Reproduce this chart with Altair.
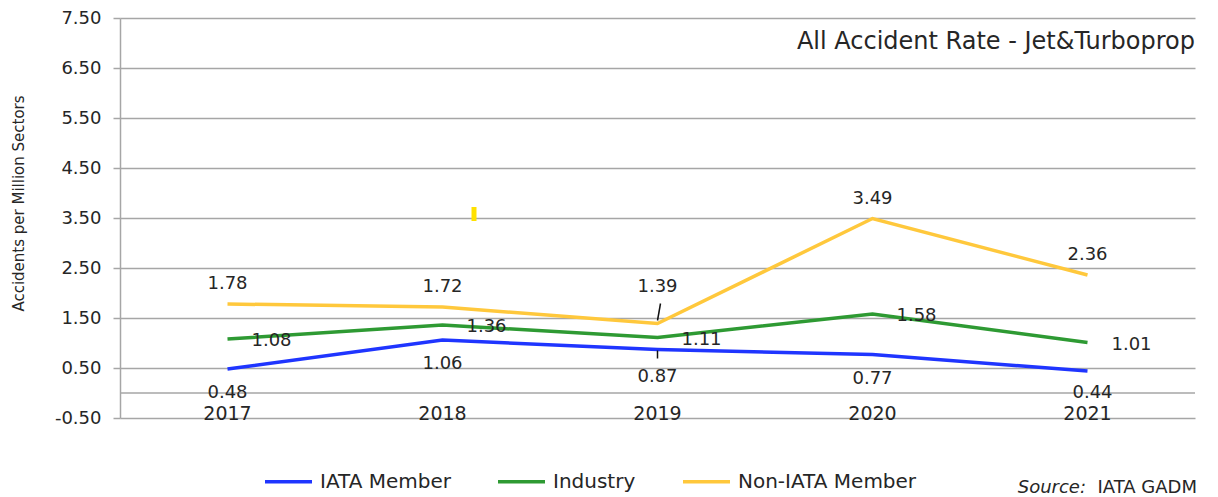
import altair as alt
import pandas as pd

# ---- data ----
years = ["2017", "2018", "2019", "2020", "2021"]
iata_member = [0.48, 1.06, 0.87, 0.77, 0.44]
industry = [1.08, 1.36, 1.11, 1.58, 1.01]
non_iata_member = [1.78, 1.72, 1.39, 3.49, 2.36]
series_names = ["IATA Member", "Industry", "Non-IATA Member"]
series_colors = ["#1f35ff", "#2e9a33", "#ffc83c"]
y_ticks = [-0.5, 0.5, 1.5, 2.5, 3.5, 4.5, 5.5, 6.5, 7.5]
chart_title = "All Accident Rate - Jet&Turboprop"
y_title = "Accidents per Million Sectors"

rows = []
for name, vals in zip(series_names, [iata_member, industry, non_iata_member]):
    for yr, v in zip(years, vals):
        rows.append({"year": yr, "series": name, "value": v})
df = pd.DataFrame(rows)

FONT = "DejaVu Sans"
TXT = "#262626"
GRID = "#a6a6a6"

x_enc = alt.X("year:O", scale=alt.Scale(type="point", domain=years, padding=0.5), axis=None)
y_scale = alt.Scale(domain=[-0.5, 7.5], nice=False, zero=False)

base = alt.Chart(df)

lines = base.mark_line(strokeWidth=3.5).encode(
    x=x_enc,
    y=alt.Y("value:Q", scale=y_scale,
            axis=alt.Axis(values=y_ticks, format=".2f", title=y_title,
                          labelExpr="replace(datum.label, '\u2212', '-')",
                          labelFont=FONT, labelFontSize=18, labelColor=TXT,
                          labelPadding=12, tickSize=7, tickColor=GRID, tickWidth=1.5,
                          domainColor=GRID, domainWidth=1.5,
                          grid=True, gridColor=GRID, gridWidth=1.5,
                          titleFont=FONT, titleFontSize=15, titleFontWeight="normal",
                          titleColor=TXT, titleX=-102, titleY=185,
                          titleBaseline="middle")),
    color=alt.Color("series:N",
                    scale=alt.Scale(domain=series_names, range=series_colors),
                    legend=alt.Legend(title=None, orient="none", direction="horizontal",
                                      legendX=143, legendY=438,
                                      symbolType="stroke", symbolSize=2209,
                                      symbolStrokeWidth=3.5, labelFont=FONT,
                                      labelFontSize=20, labelColor=TXT, labelLimit=400,
                                      labelOffset=6, columnPadding=40)),
    order=alt.Order("year:O"),
)

zero_line = alt.Chart(pd.DataFrame({"z": [0]})).mark_rule(
    color=GRID, strokeWidth=1.5).encode(y=alt.Y("z:Q", scale=y_scale))

def lab(series, dx, dy, years_sel=None):
    c = base.transform_filter(alt.datum.series == series)
    if years_sel is not None:
        c = c.transform_filter(alt.FieldOneOfPredicate(field="year", oneOf=years_sel))
    return c.mark_text(font=FONT, fontSize=18, color=TXT, dx=dx, dy=dy,
                       baseline="middle", align="center").encode(
        x=x_enc, y=alt.Y("value:Q", scale=y_scale),
        text=alt.Text("value:Q", format=".2f"))

labels = [
    lab("Non-IATA Member", 0, -20, ["2017", "2018", "2020", "2021"]),
    lab("Non-IATA Member", 0, -37, ["2019"]),
    lab("Industry", 44, 2),
    lab("IATA Member", 0, 24, ["2017", "2018", "2020"]),
    lab("IATA Member", 0, 27, ["2019"]),
    lab("IATA Member", 5, 22, ["2021"]),
]

# leader lines for 2019 labels
lead_np = base.transform_filter(
    (alt.datum.series == "Non-IATA Member") & (alt.datum.year == "2019")
).mark_rule(color="#111111", strokeWidth=1.5, yOffset=-3, y2Offset=-20, x2Offset=3).encode(
    x=x_enc, x2="year:O", y=alt.Y("value:Q", scale=y_scale), y2="value:Q")
lead_iata = base.transform_filter(
    (alt.datum.series == "IATA Member") & (alt.datum.year == "2019")
).mark_rule(color="#111111", strokeWidth=1.5, yOffset=1, y2Offset=9).encode(
    x=x_enc, x2="year:O", y=alt.Y("value:Q", scale=y_scale), y2="value:Q")

year_labels = alt.Chart(pd.DataFrame({"year": years})).mark_text(
    font=FONT, fontSize=19, color=TXT, baseline="middle").encode(
    x=x_enc, y=alt.datum(-0.42), text="year:O")

title_txt = alt.Chart(pd.DataFrame({"t": [chart_title]})).mark_text(
    font=FONT, fontSize=24, color=TXT, align="right", baseline="middle").encode(
    x=alt.value(1075), y=alt.value(24), text="t:N")

src1 = alt.Chart(pd.DataFrame({"t": ["Source:"]})).mark_text(
    font=FONT, fontSize=18, fontStyle="italic", color=TXT, align="right",
    baseline="middle").encode(x=alt.value(966), y=alt.value(470), text="t:N")
src2 = alt.Chart(pd.DataFrame({"t": ["IATA GADM"]})).mark_text(
    font=FONT, fontSize=18, color=TXT, align="right", baseline="middle").encode(
    x=alt.value(1077), y=alt.value(470), text="t:N")

glitch = alt.Chart(pd.DataFrame({"a": [0]})).mark_rule(
    color="#ffe100", strokeWidth=5).encode(
    x=alt.value(354), y=alt.value(189), y2=alt.value(203))

chart = alt.layer(zero_line, lines, *labels, lead_np, lead_iata, year_labels,
                  title_txt, src1, src2, glitch).properties(
    width=1075, height=400,
    autosize=alt.AutoSizeParams(type="none"),
    padding={"left": 112, "top": 10, "right": 15, "bottom": 79},
    background="white",
).configure_view(stroke=None)

chart.save("out.html", embed_options={"renderer": "svg", "actions": False})
